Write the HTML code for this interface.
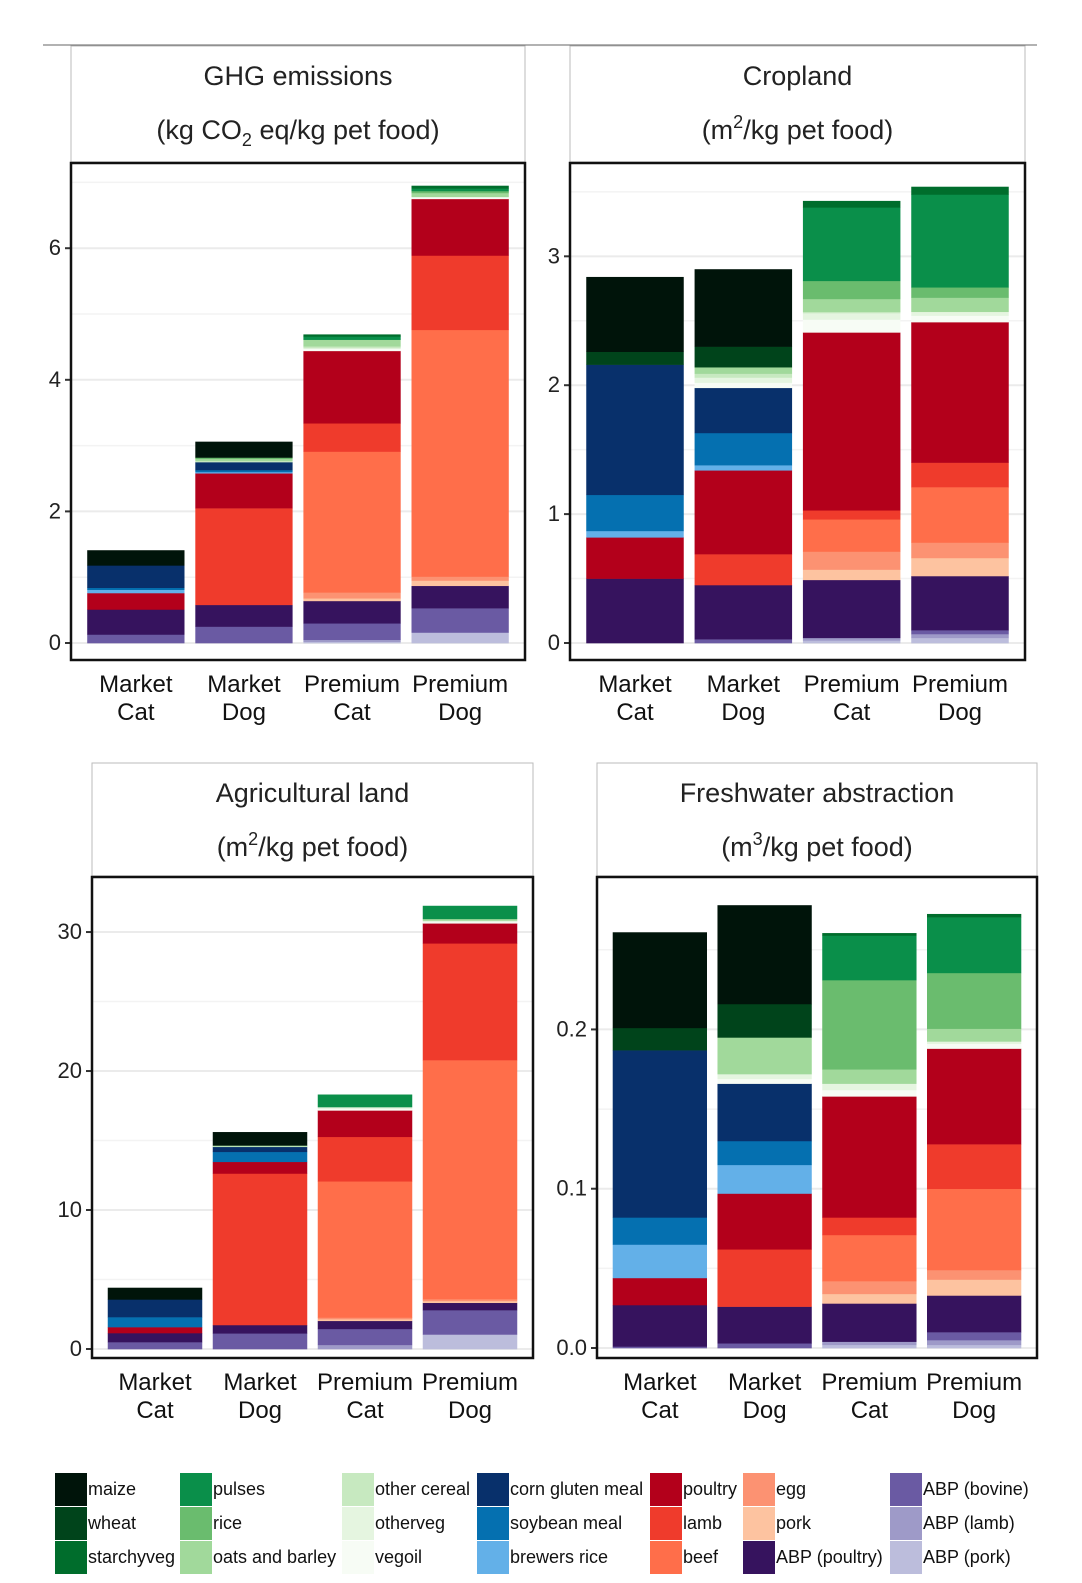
<!DOCTYPE html>
<html><head><meta charset="utf-8"><style>
html,body{margin:0;padding:0;background:#fff;}
svg{display:block;font-family:"Liberation Sans",sans-serif;}
</style></head><body>
<svg id="chart" width="1082" height="1583" viewBox="0 0 1082 1583" xmlns="http://www.w3.org/2000/svg">
<line x1="43" y1="45" x2="1037" y2="45" stroke="#666" stroke-width="1"/>
</svg>
<script>
const categories = [["Market","Cat"],["Market","Dog"],["Premium","Cat"],["Premium","Dog"]];
// series bottom-to-top
const seriesNames = ["ABP (pork)","ABP (lamb)","ABP (bovine)","ABP (poultry)","pork","egg","beef","lamb","poultry","brewers rice","soybean meal","corn gluten meal","vegoil","otherveg","other cereal","oats and barley","rice","pulses","starchyveg","wheat","maize"];
const seriesColors = ["#bcbddc","#9e9ac8","#6a5aa3","#36135e","#fdc3a0","#fc9272","#ff6e4a","#ef3b2c","#b3001b","#63b0e8","#0570b0","#08306b","#f7fcf5","#e5f5e0","#c7e9c0","#a1d99b","#6abc6e","#0a8f4a","#006d2c","#00441b","#00140a"];
const ghgValues = [
[0,0,0.02,0.16],[0,0,0.03,0],[0.13,0.25,0.25,0.37],[0.38,0.33,0.34,0.34],[0,0,0.04,0.08],[0,0,0.09,0.06],[0,0,2.14,3.75],[0,1.47,0.43,1.13],[0.25,0.53,1.10,0.86],[0.05,0.02,0,0],[0.03,0.03,0,0],[0.34,0.12,0,0],[0,0,0.04,0.03],[0,0,0,0],[0,0.02,0.03,0],[0,0.03,0.10,0.06],[0,0.02,0,0.03],[0,0,0.05,0.04],[0,0,0.03,0.04],[0,0,0,0],[0.23,0.24,0,0]];
const cropValues = [
[0,0,0.02,0.04],[0,0,0.02,0.03],[0,0.03,0,0.03],[0.50,0.42,0.45,0.42],[0,0,0.08,0.14],[0,0,0.14,0.12],[0,0,0.25,0.43],[0,0.24,0.07,0.19],[0.32,0.65,1.38,1.09],[0.05,0.04,0,0],[0.28,0.25,0,0],[1.01,0.35,0,0],[0,0.04,0.10,0.05],[0,0.04,0.05,0.03],[0,0.03,0.01,0],[0,0.05,0.10,0.11],[0,0,0.14,0.08],[0,0,0.57,0.72],[0,0,0.05,0.06],[0.10,0.16,0,0],[0.58,0.60,0,0]];
const agValues = [
[0,0,0,1.05],[0,0,0.3,0],[0.5,1.13,1.15,1.75],[0.65,0.6,0.58,0.53],[0,0,0.12,0.13],[0,0,0.12,0.13],[0,0,9.8,17.2],[0,10.9,3.2,8.4],[0.43,0.84,1.9,1.44],[0,0,0,0],[0.72,0.72,0,0],[1.27,0.36,0,0],[0,0,0.12,0.1],[0,0,0.12,0.1],[0,0.05,0,0],[0,0.05,0,0.12],[0,0,0,0],[0,0,0.9,0.94],[0,0,0,0],[0,0,0,0],[0.84,0.96,0,0]];
const waterValues = [
[0,0,0.002,0.002],[0,0,0.002,0.003],[0.001,0.003,0,0.005],[0.026,0.023,0.024,0.023],[0,0,0.006,0.01],[0,0,0.008,0.006],[0,0,0.029,0.051],[0,0.036,0.011,0.028],[0.017,0.035,0.076,0.06],[0.021,0.018,0,0],[0.017,0.015,0,0],[0.105,0.036,0,0],[0,0.003,0.004,0.003],[0,0.003,0.004,0.0015],[0,0,0,0],[0,0.023,0.009,0.008],[0,0,0.056,0.035],[0,0,0.028,0.035],[0,0,0.0015,0.002],[0.014,0.021,0,0],[0.060,0.062,0,0]];
const ghgTicks = [0,2,4,6], ghgTickLabels = ["0","2","4","6"];
const cropTicks = [0,1,2,3], cropTickLabels = ["0","1","2","3"];
const agTicks = [0,10,20,30], agTickLabels = ["0","10","20","30"];
const waterTicks = [0,0.1,0.2], waterTickLabels = ["0.0","0.1","0.2"];

const NS="http://www.w3.org/2000/svg";
const svg=document.getElementById('chart');
function mk(tag,attrs,parent){const e=document.createElementNS(NS,tag);for(const k in attrs)e.setAttribute(k,attrs[k]);(parent||svg).appendChild(e);return e;}

const panels=[
 {key:'ghg',vals:ghgValues,ticks:ghgTicks,labels:ghgTickLabels,L:71,R:525,T:163,B:660,sT:46,zero:643,dmax:7.295,t1:"GHG emissions",t2:[["(kg CO",0],["2",-1],[" eq/kg pet food)",0]]},
 {key:'cropland',vals:cropValues,ticks:cropTicks,labels:cropTickLabels,L:570,R:1025,T:163,B:660,sT:46,zero:643,dmax:3.724,t1:"Cropland",t2:[["(m",0],["2",1],["/kg pet food)",0]]},
 {key:'agland',vals:agValues,ticks:agTicks,labels:agTickLabels,L:92,R:533,T:877,B:1358,sT:763,zero:1349,dmax:33.96,t1:"Agricultural land",t2:[["(m",0],["2",1],["/kg pet food)",0]]},
 {key:'water',vals:waterValues,ticks:waterTicks,labels:waterTickLabels,L:597,R:1037,T:877,B:1358,sT:763,zero:1348,dmax:0.2957,t1:"Freshwater abstraction",t2:[["(m",0],["3",1],["/kg pet food)",0]]}
];

panels.forEach(p=>{
  const g=mk('g',{});
  
  
  const y=v=>p.zero-(v/p.dmax)*(p.zero-p.T);
  const W=p.R-p.L, unit=W/4.2, bw=unit*0.9;
  const xc=i=>p.L+unit*(0.6+i);
  const strip=mk('rect',{x:p.L,y:p.sT,width:W,height:p.T-p.sT-1,fill:'#fff',stroke:'#bbb','stroke-width':1},g);
  
  
  const cx=(p.L+p.R)/2;
  const t1=mk('text',{x:cx,y:p.sT+39,'text-anchor':'middle','font-size':27,fill:'#222'},g);
  t1.textContent=p.t1;
  
  
  const t2=mk('text',{x:cx,y:p.sT+93,'text-anchor':'middle','font-size':27,fill:'#222'},g);
  
  
  p.t2.forEach(([s,sh])=>{const ts=mk('tspan',{},t2);ts.textContent=s;
    if(sh===1){ts.setAttribute('font-size',18);ts.setAttribute('dy',-11);}
    else if(sh===-1){ts.setAttribute('font-size',18);ts.setAttribute('dy',7);}
    else if(t2.childNodes.length>1){const prev=t2.childNodes[t2.childNodes.length-2];const d=prev.getAttribute('dy');if(d)ts.setAttribute('dy',-parseFloat(d));}
  });
  for(let i=0;i<p.ticks.length;i++){
    const gl=mk('line',{x1:p.L,x2:p.R,y1:y(p.ticks[i]),y2:y(p.ticks[i]),stroke:'#ebebeb','stroke-width':2},g);
    
    
    const step=p.ticks[1]-p.ticks[0], mv=p.ticks[i]+step/2;
    if(mv<p.dmax){const ml=mk('line',{x1:p.L,x2:p.R,y1:y(mv),y2:y(mv),stroke:'#f3f3f3','stroke-width':1.5},g);
      
      }
    const tk=mk('line',{x1:p.L-6,x2:p.L,y1:y(p.ticks[i]),y2:y(p.ticks[i]),stroke:'#333','stroke-width':2},g);
    
    
    const tl=mk('text',{x:p.L-10,y:y(p.ticks[i])+7,'text-anchor':'end','font-size':22,fill:'#222'},g);
    tl.textContent=p.labels[i];
    
    
  }
  for(let b=0;b<4;b++){
    let acc=0;
    for(let s=0;s<p.vals.length;s++){
      const v=p.vals[s][b]; if(!v)continue;
      const r=mk('rect',{x:xc(b)-bw/2,y:y(acc+v),width:bw,height:y(acc)-y(acc+v)+0.3,fill:seriesColors[s]},g);
      
      
      acc+=v;
    }
    const xl=mk('text',{x:xc(b),y:p.B+32,'text-anchor':'middle','font-size':24,fill:'#111'},g);
    
    
    const a=mk('tspan',{x:xc(b)},xl);a.textContent=categories[b][0];
    const c=mk('tspan',{x:xc(b),dy:28},xl);c.textContent=categories[b][1];
  }
  const fr=mk('rect',{x:p.L,y:p.T,width:W,height:p.B-p.T,fill:'none',stroke:'#111','stroke-width':2.5},g);
  
  
});

const legendCols=[[20,19,18],[17,16,15],[14,13,12],[11,10,9],[8,7,6],[5,4,3],[2,1,0]];
const legendX=[55,180,342,477,650,743,890];
const lg=mk('g',{});


legendCols.forEach((col,ci)=>{
  col.forEach((s,ri)=>{
    const yy=1473+ri*34;
    const sw=mk('rect',{x:legendX[ci],y:yy,width:32,height:33,fill:seriesColors[s]},lg);
    
    
    const tx=mk('text',{x:legendX[ci]+33,y:yy+22,'font-size':18,fill:'#111'},lg);
    tx.textContent=seriesNames[s];
    
    
  });
});
</script>
</body></html>
